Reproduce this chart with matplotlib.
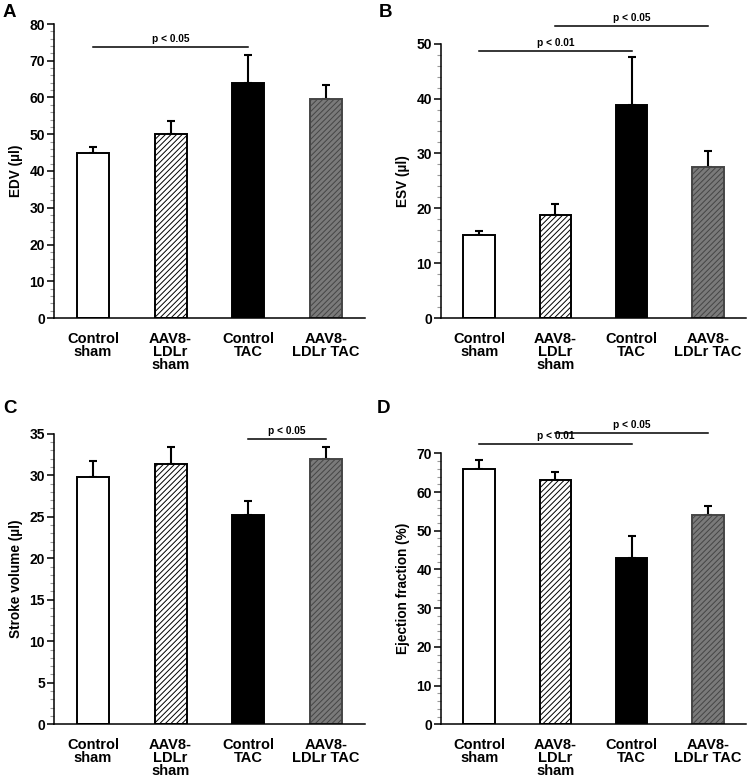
import numpy as np
import matplotlib
matplotlib.use('Agg')
import matplotlib.pyplot as plt
from matplotlib.ticker import MultipleLocator

plt.rcParams['font.family'] = ['Liberation Sans', 'DejaVu Sans']
plt.rcParams['font.weight'] = 'bold'
plt.rcParams['hatch.linewidth'] = 0.7

groups = ['Control\nsham', 'AAV8-\nLDLr\nsham', 'Control\nTAC', 'AAV8-\nLDLr TAC']

# means and (upper) SEM
edv_mean = [45.0, 50.1, 64.0, 59.5]
edv_err = [1.5, 3.4, 7.5, 3.8]
esv_mean = [15.2, 18.8, 38.8, 27.6]
esv_err = [0.6, 1.9, 8.7, 2.8]
sv_mean = [29.8, 31.3, 25.2, 31.9]
sv_err = [1.9, 2.1, 1.7, 1.5]
ef_mean = [66.0, 63.0, 43.0, 54.0]
ef_err = [2.2, 2.2, 5.7, 2.3]

# significance brackets: (from group, to group, y level, label)
edv_sig = [(0, 2, 73.7, 'p < 0.05')]
esv_sig = [(0, 2, 48.7, 'p < 0.01'), (1, 3, 53.2, 'p < 0.05')]
sv_sig = [(2, 3, 34.35, 'p < 0.05')]
ef_sig = [(0, 2, 72.3, 'p < 0.01'), (1, 3, 75.3, 'p < 0.05')]

faces = ['white', 'white', 'black', '#7a7a7a']
edges = ['black', 'black', 'black', '#454545']
hatches = [None, '//////', None, '//////']

W, H = 747, 779
fig = plt.figure(figsize=(W / 100, H / 100), dpi=100)


def px_axes(left, right, top, bottom):
    return fig.add_axes([left / W, 1 - bottom / H, (right - left) / W, (bottom - top) / H])


def draw_panel(ax, means, errs, ymax, ystep, ylabel, sigs):
    x = np.arange(len(means))
    for i in range(len(means)):
        ax.bar(x[i], means[i], width=0.41, color=faces[i], edgecolor=edges[i],
               linewidth=1.4, hatch=hatches[i], zorder=2)
    ax.errorbar(x, means, yerr=[np.zeros(len(errs)), errs], fmt='none',
                ecolor='black', elinewidth=1.5, capsize=2.6, capthick=1.5, zorder=1)
    ax.set_xlim(-0.5, 3.5)
    ax.set_ylim(0, ymax)
    ax.yaxis.set_major_locator(MultipleLocator(ystep))
    ax.yaxis.set_minor_locator(MultipleLocator(ystep / 5))
    ax.tick_params(axis='y', which='major', length=5, width=1.1, labelsize=10, pad=1.5)
    ax.tick_params(axis='y', which='minor', length=3, width=0.8, color='#999999')
    ax.tick_params(axis='x', length=0, pad=10, labelsize=10.5)
    ax.set_xticks(x)
    ax.set_xticklabels(groups, linespacing=0.9, fontweight='bold')
    plt.setp(ax.get_yticklabels(), fontweight='bold')
    for s in ['top', 'right']:
        ax.spines[s].set_visible(False)
    for s in ['left', 'bottom']:
        ax.spines[s].set_linewidth(1.1)
    ax.set_ylabel(ylabel, fontsize=9.8, fontweight='bold', labelpad=5)
    for a, b, y, txt in sigs:
        ax.plot([a, b], [y, y], color='black', lw=1.1, clip_on=False)
        ax.text((a + b) / 2, y + ymax * 0.012, txt, ha='center', va='bottom',
                fontsize=7.3, fontweight='bold', clip_on=False)


axA = px_axes(54, 365, 24, 318)
draw_panel(axA, edv_mean, edv_err, 80, 10, 'EDV (µl)', edv_sig)
axB = px_axes(441, 746, 43.7, 318)
draw_panel(axB, esv_mean, esv_err, 50, 10, 'ESV (µl)', esv_sig)
axC = px_axes(54, 365, 433.7, 724.3)
draw_panel(axC, sv_mean, sv_err, 35, 5, 'Stroke volume (µl)', sv_sig)
axD = px_axes(441, 746, 453.3, 724.3)
draw_panel(axD, ef_mean, ef_err, 70, 10, 'Ejection fraction (%)', ef_sig)

for lab, (px, py) in zip('ABCD', [(3, 17), (379, 17), (3, 413), (377, 413)]):
    fig.text(px / W, 1 - py / H, lab, fontsize=13.5, fontweight='bold', va='baseline')

fig.savefig('out.png', dpi=100)
